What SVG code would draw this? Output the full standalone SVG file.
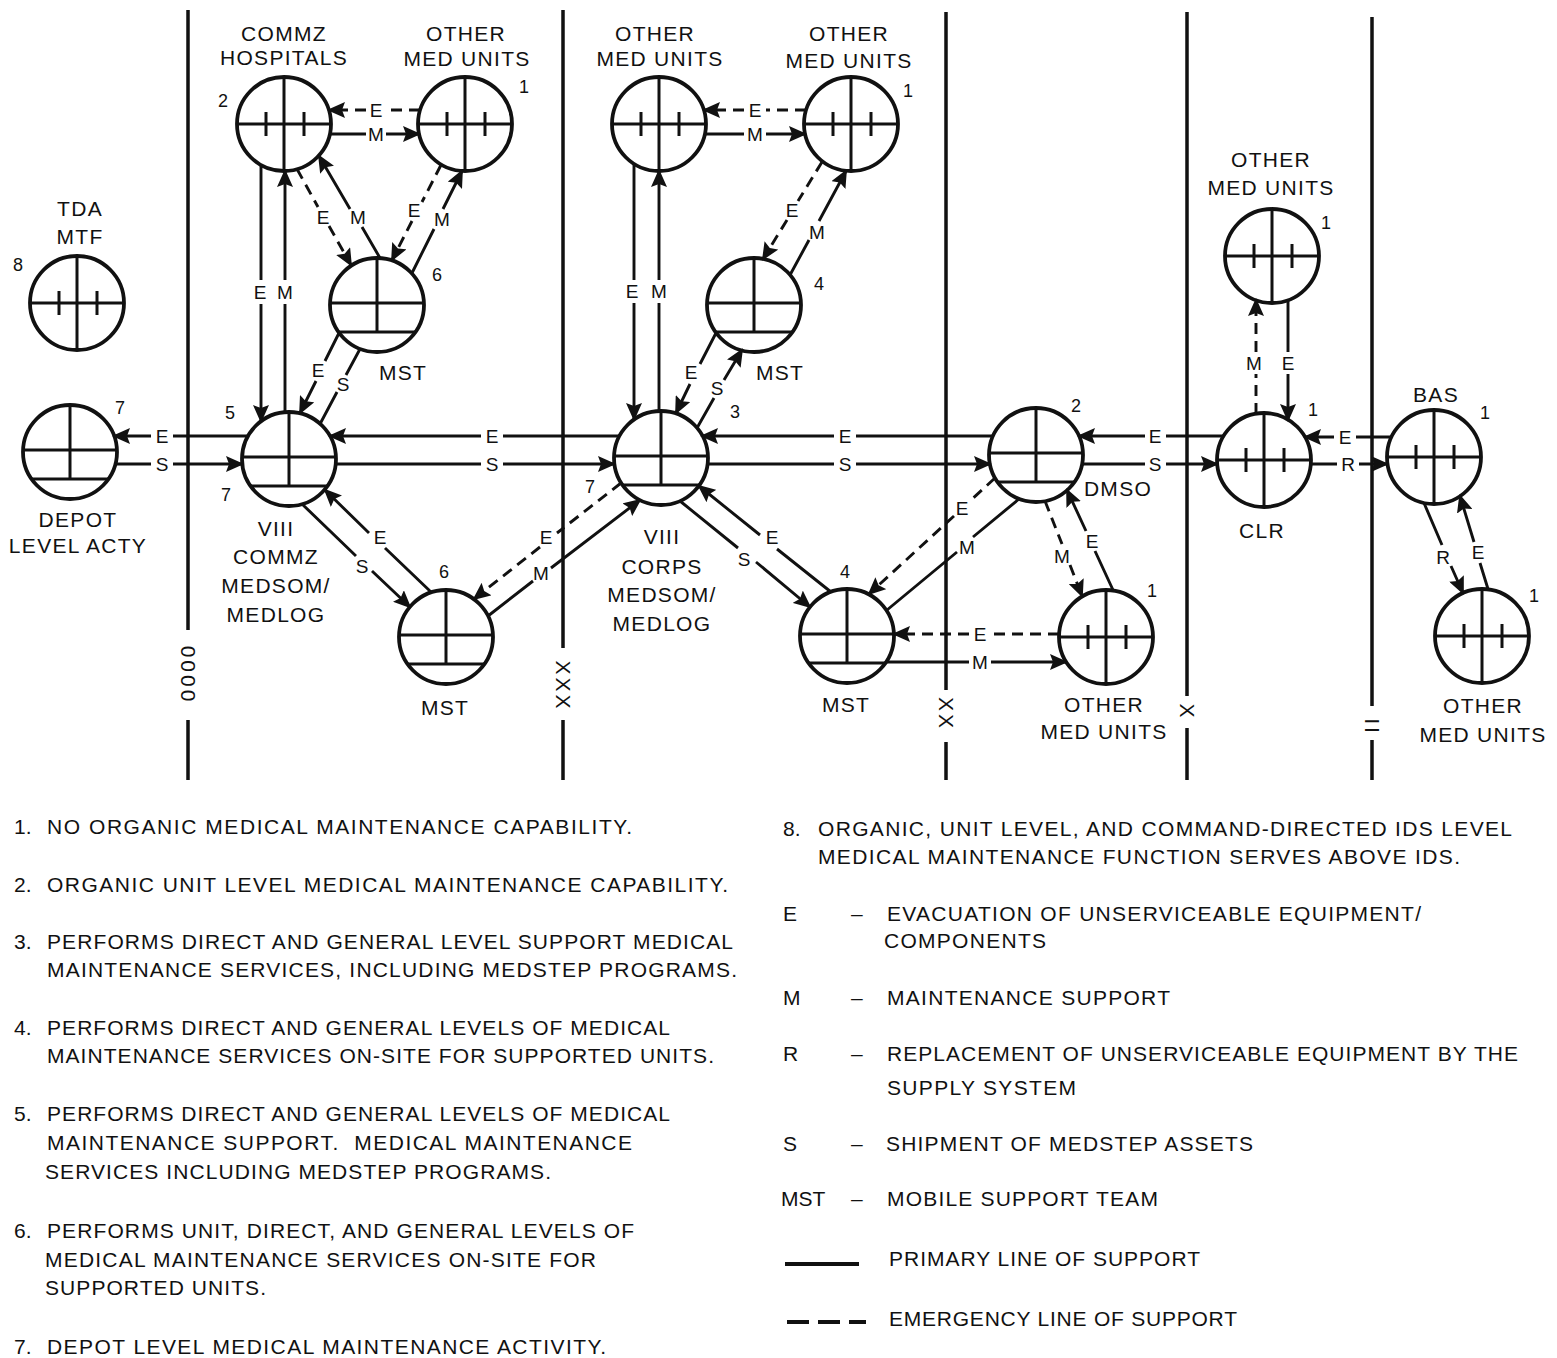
<svg xmlns="http://www.w3.org/2000/svg" width="1557" height="1358" viewBox="0 0 1557 1358">
<style>
text{font-family:"Liberation Sans",Arial,Helvetica,sans-serif;fill:#111}
.lbl{font-size:21px;letter-spacing:1.3px;text-anchor:middle}
.num{font-size:18px;text-anchor:middle}
.cl{font-size:19px;text-anchor:middle}
.lg{font-size:21px}
.ech{font-size:21px;text-anchor:middle;dominant-baseline:central;letter-spacing:3px}
.div{stroke:#111;stroke-width:3.5;fill:none}
.p{fill:none;stroke:#111;stroke-width:2.9}
.d{fill:none;stroke:#111;stroke-width:2.9;stroke-dasharray:11 7}
.a{marker-end:url(#ah)}
</style>
<defs>
<marker id="ah" markerUnits="userSpaceOnUse" markerWidth="18" markerHeight="16" refX="16" refY="8" orient="auto" viewBox="0 0 18 16"><path d="M0,0 L18,8 L0,16 L3,8 Z" fill="#111"/></marker>
<g id="u">
<circle r="47" fill="#fff" stroke="#111" stroke-width="3.8"/>
<line x1="0" y1="-47" x2="0" y2="47" stroke="#111" stroke-width="3"/>
<line x1="-47" y1="0" x2="47" y2="0" stroke="#111" stroke-width="3"/>
<line x1="-18" y1="-12" x2="-18" y2="12" stroke="#111" stroke-width="3"/>
<line x1="20" y1="-12" x2="20" y2="12" stroke="#111" stroke-width="3"/>
</g>
<g id="s">
<circle r="47" fill="#fff" stroke="#111" stroke-width="3.8"/>
<line x1="-47" y1="-2" x2="47" y2="-2" stroke="#111" stroke-width="3"/>
<line x1="-38.5" y1="27" x2="38.5" y2="27" stroke="#111" stroke-width="3"/>
<line x1="0" y1="-47" x2="0" y2="27" stroke="#111" stroke-width="3"/>
</g>
</defs>
<rect width="1557" height="1358" fill="#fff"/>

<g id="dividers">
<path class="div" d="M188,10 L188,630 M188,720 L188,780"/>
<text class="ech" transform="translate(188,675) rotate(90)">0000</text>
<path class="div" d="M563,10 L563,648 M563,720 L563,780"/>
<text class="ech" transform="translate(563,686) rotate(90)">XXX</text>
<path class="div" d="M946,12 L946,690 M946,742 L946,780"/>
<text class="ech" transform="translate(946,714) rotate(90)">XX</text>
<path class="div" d="M1187,12 L1187,696 M1187,728 L1187,780"/>
<text class="ech" transform="translate(1187,712) rotate(90)">X</text>
<path class="div" d="M1372,17 L1372,706 M1372,740 L1372,780"/>
<text class="ech" transform="translate(1372,727) rotate(90)">II</text>
</g>

<g id="n-tda-mtf"><use href="#u" x="77" y="303"/>
<text class="lbl" x="80" y="216">TDA</text><text class="lbl" x="80" y="244">MTF</text><text class="num" x="18" y="271">8</text></g>
<g id="n-depot"><use href="#s" x="70" y="452"/>
<text class="lbl" x="78" y="527">DEPOT</text><text class="lbl" x="78" y="553">LEVEL ACTY</text><text class="num" x="120" y="414">7</text></g>
<g id="n-commz-hosp"><use href="#u" x="284" y="124"/>
<text class="lbl" x="284" y="41">COMMZ</text><text class="lbl" x="284" y="65">HOSPITALS</text><text class="num" x="223" y="107">2</text></g>
<g id="n-omu-a"><use href="#u" x="465" y="124"/>
<text class="lbl" x="466" y="41">OTHER</text><text class="lbl" x="467" y="66">MED UNITS</text><text class="num" x="524" y="93">1</text></g>
<g id="n-mst6-top"><use href="#s" x="377" y="305"/>
<text class="lbl" x="403" y="380">MST</text><text class="num" x="437" y="281">6</text></g>
<g id="n-commz-medsom"><use href="#s" x="289" y="459"/>
<text class="lbl" x="276" y="536">VIII</text><text class="lbl" x="276" y="564">COMMZ</text><text class="lbl" x="276" y="593">MEDSOM/</text><text class="lbl" x="276" y="622">MEDLOG</text>
<text class="num" x="230" y="419">5</text><text class="num" x="226" y="501">7</text></g>
<g id="n-mst6-bot"><use href="#s" x="446" y="637"/>
<text class="lbl" x="445" y="715">MST</text><text class="num" x="444" y="578">6</text></g>
<g id="n-omu-b"><use href="#u" x="659" y="124"/>
<text class="lbl" x="655" y="41">OTHER</text><text class="lbl" x="660" y="66">MED UNITS</text></g>
<g id="n-omu-c"><use href="#u" x="851" y="124"/>
<text class="lbl" x="849" y="41">OTHER</text><text class="lbl" x="849" y="68">MED UNITS</text><text class="num" x="908" y="97">1</text></g>
<g id="n-mst4-top"><use href="#s" x="754" y="305"/>
<text class="lbl" x="780" y="380">MST</text><text class="num" x="819" y="290">4</text></g>
<g id="n-corps-medsom"><use href="#s" x="661" y="458"/>
<text class="lbl" x="662" y="544">VIII</text><text class="lbl" x="662" y="574">CORPS</text><text class="lbl" x="662" y="602">MEDSOM/</text><text class="lbl" x="662" y="631">MEDLOG</text>
<text class="num" x="735" y="418">3</text><text class="num" x="590" y="493">7</text></g>
<g id="n-mst4-bot"><use href="#s" x="847" y="636"/>
<text class="lbl" x="846" y="712">MST</text><text class="num" x="845" y="578">4</text></g>
<g id="n-dmso"><use href="#s" x="1036" y="455"/>
<text class="lbl" x="1118" y="496">DMSO</text><text class="num" x="1076" y="412">2</text></g>
<g id="n-omu-d"><use href="#u" x="1106" y="637"/>
<text class="lbl" x="1104" y="712">OTHER</text><text class="lbl" x="1104" y="739">MED UNITS</text><text class="num" x="1152" y="597">1</text></g>
<g id="n-omu-e"><use href="#u" x="1272" y="256"/>
<text class="lbl" x="1271" y="167">OTHER</text><text class="lbl" x="1271" y="195">MED UNITS</text><text class="num" x="1326" y="229">1</text></g>
<g id="n-clr"><use href="#u" x="1264" y="460"/>
<text class="lbl" x="1262" y="538">CLR</text><text class="num" x="1313" y="416">1</text></g>
<g id="n-bas"><use href="#u" x="1434" y="457"/>
<text class="lbl" x="1436" y="402">BAS</text><text class="num" x="1485" y="419">1</text></g>
<g id="n-omu-f"><use href="#u" x="1482" y="636"/>
<text class="lbl" x="1483" y="713">OTHER</text><text class="lbl" x="1483" y="742">MED UNITS</text><text class="num" x="1534" y="602">1</text></g>

<g id="connectors">
<path class="d a" d="M420,110 L386,110 M366,110 L329,110"/>
<path class="p a" d="M330,134 L366,134 M386,134 L419,134"/>
<path class="d a" d="M297,169 L318,207 M329,226 L351,265"/>
<path class="p a" d="M380,258 L362,227 M350,209 L319,156"/>
<path class="d a" d="M441,165 L422,202 M412,221 L392,260"/>
<path class="p a" d="M412,273 L434,229 M443,209 L462,171"/>
<path class="p a" d="M261,165 L261,280 M261,304 L261,421"/>
<path class="p a" d="M285,412 L285,304 M285,280 L285,171"/>
<path class="p a" d="M339,333 L325,361 M316,381 L300,413"/>
<path class="p" d="M360,349 L346,375 M337,392 L320,424"/>
<path class="p a" d="M431,592 L385,548 M369,533 L325,490"/>
<path class="p a" d="M302,504 L356,556 M372,571 L410,607"/>
<path class="d a" d="M621,483 L557,533 M540,547 L474,599"/>
<path class="p a" d="M488,616 L533,581 M551,568 L640,500"/>
<path class="d a" d="M806,110 L766,110 M744,110 L704,110"/>
<path class="p a" d="M705,134 L744,134 M766,134 L805,134"/>
<path class="d a" d="M822,162 L798,201 M787,220 L763,259"/>
<path class="p a" d="M790,275 L809,240 M819,221 L846,171"/>
<path class="p a" d="M634,164 L634,280 M634,303 L634,419"/>
<path class="p a" d="M659,411 L659,303 M659,280 L659,171"/>
<path class="p a" d="M716,333 L700,364 M690,384 L676,413"/>
<path class="p a" d="M697,428 L714,398 M724,380 L742,350"/>
<path class="p a" d="M831,592 L777,549 M760,535 L699,486"/>
<path class="p a" d="M680,501 L738,548 M756,562 L810,607"/>
<path class="d a" d="M995,478 L970,501 M954,516 L869,594"/>
<path class="p" d="M1019,499 L973,537 M957,552 L887,610"/>
<path class="d a" d="M1045,501 L1062,544 M1070,565 L1082,596"/>
<path class="p a" d="M1113,590 L1095,551 M1086,531 L1067,490"/>
<path class="d a" d="M1059,634 L991,634 M969,634 L894,634"/>
<path class="p a" d="M886,662 L969,662 M991,662 L1066,662"/>
<path class="p a" d="M1224,436 L1166,436 M1145,436 L1079,436"/>
<path class="p a" d="M1082,464 L1145,464 M1166,464 L1217,464"/>
<path class="p a" d="M993,436 L856,436 M834,436 L702,436"/>
<path class="p a" d="M708,464 L834,464 M856,464 L990,464"/>
<path class="p a" d="M620,436 L503,436 M481,436 L330,436"/>
<path class="p a" d="M336,464 L481,464 M503,464 L614,464"/>
<path class="p a" d="M248,436 L173,436 M151,436 L114,436"/>
<path class="p a" d="M115,464 L151,464 M173,464 L242,464"/>
<path class="p a" d="M1391,437 L1356,437 M1334,437 L1305,437"/>
<path class="p a" d="M1311,464 L1337,464 M1359,464 L1387,464"/>
<path class="d a" d="M1256,414 L1256,374 M1256,352 L1256,300"/>
<path class="p a" d="M1288,300 L1288,352 M1288,374 L1288,420"/>
<path class="p a" d="M1424,503 L1442,545 M1451,566 L1463,593"/>
<path class="p a" d="M1488,589 L1480,563 M1474,542 L1460,496"/>
</g>

<g id="connector-labels">
<text class="cl" x="376" y="117">E</text><text class="cl" x="376" y="141">M</text>
<text class="cl" x="323" y="224">E</text><text class="cl" x="358" y="224">M</text>
<text class="cl" x="414" y="217">E</text><text class="cl" x="442" y="226">M</text>
<text class="cl" x="260" y="299">E</text><text class="cl" x="285" y="299">M</text>
<text class="cl" x="318" y="377">E</text><text class="cl" x="343" y="391">S</text>
<text class="cl" x="162" y="443">E</text><text class="cl" x="162" y="471">S</text>
<text class="cl" x="492" y="443">E</text><text class="cl" x="492" y="471">S</text>
<text class="cl" x="380" y="544">E</text><text class="cl" x="362" y="573">S</text>
<text class="cl" x="546" y="544">E</text><text class="cl" x="541" y="580">M</text>
<text class="cl" x="755" y="117">E</text><text class="cl" x="755" y="141">M</text>
<text class="cl" x="792" y="217">E</text><text class="cl" x="817" y="239">M</text>
<text class="cl" x="632" y="298">E</text><text class="cl" x="659" y="298">M</text>
<text class="cl" x="691" y="379">E</text><text class="cl" x="717" y="395">S</text>
<text class="cl" x="845" y="443">E</text><text class="cl" x="845" y="471">S</text>
<text class="cl" x="772" y="544">E</text><text class="cl" x="744" y="566">S</text>
<text class="cl" x="962" y="515">E</text><text class="cl" x="967" y="554">M</text>
<text class="cl" x="1062" y="563">M</text><text class="cl" x="1092" y="548">E</text>
<text class="cl" x="980" y="641">E</text><text class="cl" x="980" y="669">M</text>
<text class="cl" x="1155" y="443">E</text><text class="cl" x="1155" y="471">S</text>
<text class="cl" x="1254" y="370">M</text><text class="cl" x="1288" y="370">E</text>
<text class="cl" x="1345" y="444">E</text><text class="cl" x="1348" y="471">R</text>
<text class="cl" x="1443" y="564">R</text><text class="cl" x="1478" y="559">E</text>
</g>

<g id="legend">
<text class="lg" x="14" y="834">1.</text><text class="lg" x="47" y="834" textLength="585" lengthAdjust="spacing">NO ORGANIC MEDICAL MAINTENANCE CAPABILITY.</text>
<text class="lg" x="14" y="892">2.</text><text class="lg" x="47" y="892" textLength="681" lengthAdjust="spacing">ORGANIC UNIT LEVEL MEDICAL MAINTENANCE CAPABILITY.</text>
<text class="lg" x="14" y="949">3.</text><text class="lg" x="47" y="949" textLength="686" lengthAdjust="spacing">PERFORMS DIRECT AND GENERAL LEVEL SUPPORT MEDICAL</text>
<text class="lg" x="47" y="977" textLength="690" lengthAdjust="spacing">MAINTENANCE SERVICES, INCLUDING MEDSTEP PROGRAMS.</text>
<text class="lg" x="14" y="1035">4.</text><text class="lg" x="47" y="1035" textLength="623" lengthAdjust="spacing">PERFORMS DIRECT AND GENERAL LEVELS OF MEDICAL</text>
<text class="lg" x="47" y="1063" textLength="667" lengthAdjust="spacing">MAINTENANCE SERVICES ON-SITE FOR SUPPORTED UNITS.</text>
<text class="lg" x="14" y="1121">5.</text><text class="lg" x="47" y="1121" textLength="623" lengthAdjust="spacing">PERFORMS DIRECT AND GENERAL LEVELS OF MEDICAL</text>
<text class="lg" x="47" y="1150" textLength="585" lengthAdjust="spacing" style="white-space:pre">MAINTENANCE SUPPORT.  MEDICAL MAINTENANCE</text>
<text class="lg" x="45" y="1179" textLength="506" lengthAdjust="spacing">SERVICES INCLUDING MEDSTEP PROGRAMS.</text>
<text class="lg" x="14" y="1238">6.</text><text class="lg" x="47" y="1238" textLength="587" lengthAdjust="spacing">PERFORMS UNIT, DIRECT, AND GENERAL LEVELS OF</text>
<text class="lg" x="45" y="1267" textLength="551" lengthAdjust="spacing">MEDICAL MAINTENANCE SERVICES ON-SITE FOR</text>
<text class="lg" x="45" y="1295" textLength="221" lengthAdjust="spacing">SUPPORTED UNITS.</text>
<text class="lg" x="14" y="1354">7.</text><text class="lg" x="47" y="1354" textLength="559" lengthAdjust="spacing">DEPOT LEVEL MEDICAL MAINTENANCE ACTIVITY.</text>

<text class="lg" x="783" y="836">8.</text><text class="lg" x="818" y="836" textLength="694" lengthAdjust="spacing">ORGANIC, UNIT LEVEL, AND COMMAND-DIRECTED IDS LEVEL</text>
<text class="lg" x="818" y="864" textLength="642" lengthAdjust="spacing">MEDICAL MAINTENANCE FUNCTION SERVES ABOVE IDS.</text>
<text class="lg" x="783" y="921">E</text><text class="lg" x="851" y="921">–</text>
<text class="lg" x="887" y="921" textLength="534" lengthAdjust="spacing">EVACUATION OF UNSERVICEABLE EQUIPMENT/</text>
<text class="lg" x="884" y="948" textLength="162" lengthAdjust="spacing">COMPONENTS</text>
<text class="lg" x="783" y="1005">M</text><text class="lg" x="851" y="1005">–</text>
<text class="lg" x="887" y="1005" textLength="283" lengthAdjust="spacing">MAINTENANCE SUPPORT</text>
<text class="lg" x="783" y="1061">R</text><text class="lg" x="851" y="1061">–</text>
<text class="lg" x="887" y="1061" textLength="631" lengthAdjust="spacing">REPLACEMENT OF UNSERVICEABLE EQUIPMENT BY THE</text>
<text class="lg" x="887" y="1095" textLength="189" lengthAdjust="spacing">SUPPLY SYSTEM</text>
<text class="lg" x="783" y="1151">S</text><text class="lg" x="851" y="1151">–</text>
<text class="lg" x="886" y="1151" textLength="367" lengthAdjust="spacing">SHIPMENT OF MEDSTEP ASSETS</text>
<text class="lg" x="781" y="1206">MST</text><text class="lg" x="851" y="1206">–</text>
<text class="lg" x="887" y="1206" textLength="271" lengthAdjust="spacing">MOBILE SUPPORT TEAM</text>
<line x1="785" y1="1264" x2="859" y2="1264" stroke="#111" stroke-width="4"/>
<text class="lg" x="889" y="1266" textLength="311" lengthAdjust="spacing">PRIMARY LINE OF SUPPORT</text>
<line x1="787" y1="1322" x2="866" y2="1322" stroke="#111" stroke-width="4" stroke-dasharray="22 9"/>
<text class="lg" x="889" y="1326" textLength="348" lengthAdjust="spacing">EMERGENCY LINE OF SUPPORT</text>
</g>
</svg>
